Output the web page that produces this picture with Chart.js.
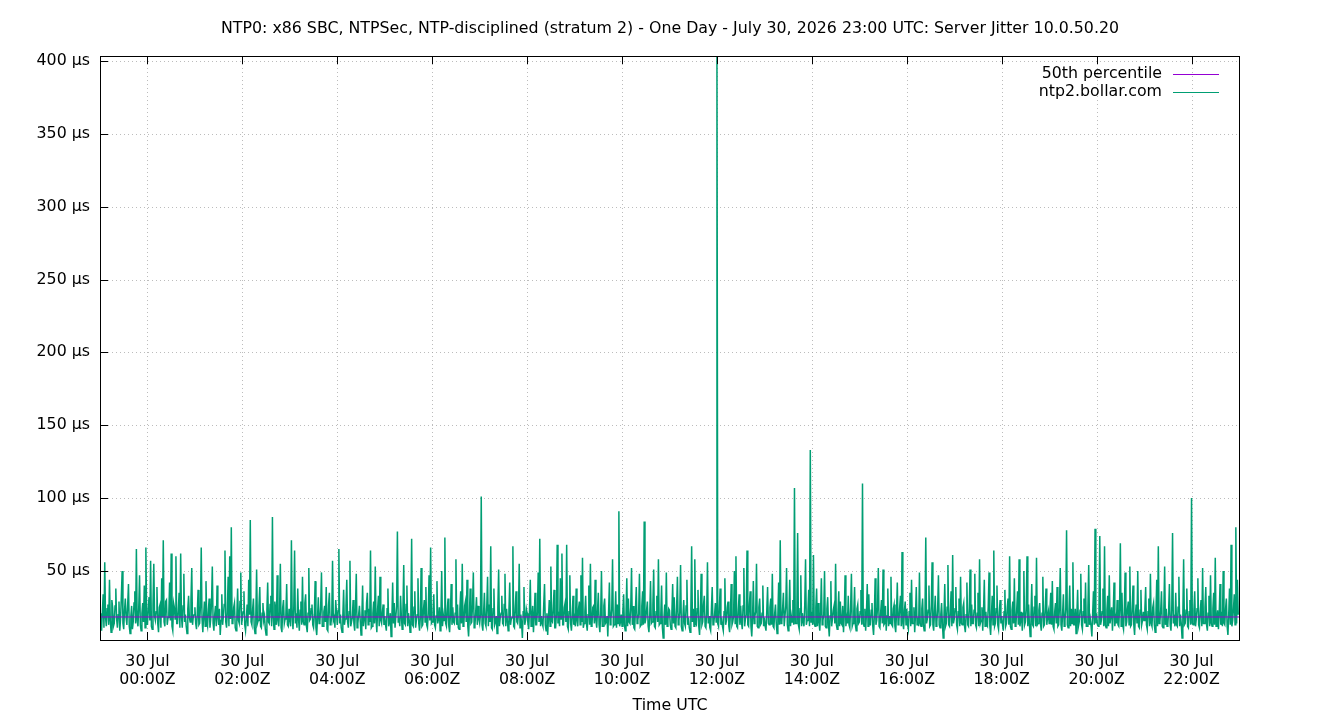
<!DOCTYPE html>
<html>
<head>
<meta charset="utf-8">
<title>Server Jitter</title>
<script src="https://cdn.jsdelivr.net/npm/chart.js@4.4.1/dist/chart.umd.min.js"></script>
<style>
  html, body { margin: 0; padding: 0; background: #fff; }
  #wrap { width: 1340px; height: 720px; }
</style>
</head>
<body>
<div id="wrap"><canvas id="jitterChart" width="1340" height="720"></canvas></div>
<script>
const chartTitle = "NTP0: x86 SBC, NTPSec, NTP-disciplined (stratum 2) - One Day - July 30, 2026 23:00 UTC: Server Jitter 10.0.50.20"
const xTitle = "Time UTC"
const seriesNames = ["50th percentile", "ntp2.bollar.com"]

// x axis in hours relative to 30 Jul 00:00Z
const xMin = -1
const xMax = 23
const tickHours = [0, 2, 4, 6, 8, 10, 12, 14, 16, 18, 20, 22]
const tickDate = "30 Jul"
const yMin = 2.6
const yMax = 403.4
const yTicks = [50, 100, 150, 200, 250, 300, 350, 400]

const median = 18.4

// one sample per minute starting 29 Jul 23:00Z, one row per hour
const sampleStart = -1
const sampleStep = 1 / 60
const jitter = [
  21,15, 9,22, 34,11, 56,18, 12,24, 27,13, 44,16, 8,30, 25,12, 14,26, 38,17, 11,20, 29,9, 17,33, 50,14, 10,23, 31,18, 13,27, 41,12, 7,19, 26,10, 15,28, 36,14, 65,16, 12,25, 47,13, 9,21, 28,15, 40,11, 66,17,
  13,24, 32,16, 57,12, 10,27, 55,19, 16,22, 39,14, 8,25, 27,11, 45,18, 71,15, 12,29, 30,13, 18,21, 42,16, 62,12, 9,28, 25,17, 60,14, 14,23, 35,11, 62,19, 11,26, 48,15, 20,12, 7,24, 33,18, 15,30, 52,13, 19,20,
  25,14, 10,21, 37,13, 14,26, 66,17, 8,19, 29,12, 43,15, 12,23, 31,11, 17,28, 53,14, 9,20, 26,12, 40,18, 13,24, 6,16, 34,13, 19,27, 64,15, 11,22, 46,12, 60,17, 80,14, 15,25, 28,11, 9,19, 38,16, 14,29, 49,13,
  18,22, 36,13, 9,17, 27,12, 44,20, 85,15, 13,24, 31,11, 7,19, 51,14, 16,26, 39,12, 11,21, 28,16, 19,10, 6,23, 42,15, 14,27, 33,12, 87,18, 10,29, 24,13, 47,16, 12,22, 55,11, 8,25, 30,14, 17,20, 41,13, 12,24,
  16,12, 71,19, 10,25, 64,14, 21,11, 38,17, 9,23, 29,13, 46,15, 13,28, 34,12, 8,21, 52,16, 17,24, 27,13, 11,20, 43,11, 6,18, 32,14, 15,26, 49,12, 12,22, 26,15, 39,10, 9,27, 35,13, 14,19, 57,16, 18,11, 30,21,
  13,23, 65,14, 20,11, 8,19, 37,13, 17,26, 44,15, 11,22, 57,12, 15,18, 30,14, 9,25, 48,11, 14,20, 26,16, 6,17, 40,12, 18,23, 10,28, 35,13, 24,15, 64,11, 12,21, 29,14, 53,17, 8,24, 33,12, 46,16, 14,22, 27,13,
  19,13, 9,24, 38,12, 15,21, 5,17, 42,14, 28,11, 11,26, 77,15, 18,12, 33,19, 10,23, 54,14, 13,27, 40,12, 21,16, 8,22, 72,13, 12,25, 36,11, 16,20, 45,14, 9,18, 52,12, 13,24, 30,15, 39,13, 11,21, 47,16, 66,14,
  15,22, 34,13, 11,19, 43,14, 17,25, 9,18, 50,12, 20,16, 73,14, 12,23, 31,12, 8,20, 41,13, 25,15, 14,21, 58,13, 27,11, 10,24, 36,14, 55,12, 13,26, 29,15, 44,12, 5,19, 38,14, 15,27, 49,11, 12,22, 32,13, 26,17,
  14,20, 101,13, 9,22, 35,14, 12,26, 46,12, 27,15, 67,11, 10,24, 38,13, 15,19, 7,25, 51,12, 18,21, 33,14, 13,27, 48,12, 24,16, 9,23, 42,13, 17,18, 67,12, 11,25, 36,15, 14,20, 55,11, 20,14, 4,22, 39,13, 16,24,
  21,14, 10,23, 44,12, 17,26, 8,19, 35,13, 13,22, 49,15, 72,12, 19,14, 12,27, 41,13, 9,21, 6,18, 30,12, 53,16, 15,24, 37,11, 11,20, 68,14, 18,12, 45,17, 62,13, 13,25, 28,15, 68,12, 10,22, 47,14, 9,19, 33,13,
  17,12, 38,16, 12,24, 29,13, 47,15, 59,11, 14,22, 33,14, 9,20, 40,13, 55,12, 13,25, 26,14, 44,16, 11,23, 35,13, 8,21, 50,12, 12,26, 31,14, 15,19, 5,22, 42,13, 17,24, 58,12, 13,18, 36,11, 27,14, 91,12, 15,20,
  12,22, 34,13, 9,20, 45,12, 31,15, 14,25, 52,13, 26,11, 10,24, 39,14, 16,21, 48,12, 13,26, 36,13, 84,14, 17,23, 29,12, 8,19, 43,14, 15,27, 51,12, 11,22, 33,15, 58,13, 14,20, 40,11, 4,18, 27,13, 49,12, 16,24,
  23,13, 10,21, 41,14, 32,12, 11,25, 46,13, 16,22, 54,12, 9,19, 30,14, 12,26, 44,13, 18,11, 8,23, 67,15, 24,12, 58,14, 13,24, 37,12, 6,20, 48,13, 15,27, 33,12, 11,21, 56,14, 19,11, 9,24, 39,13, 14,20, 28,15,
  403,14, 12,24, 38,13, 18,12, 9,22, 45,13, 16,25, 29,12, 8,21, 41,13, 15,19, 50,14, 60,12, 11,23, 34,13, 26,15, 10,26, 52,12, 17,20, 64,13, 12,27, 36,12, 5,18, 43,14, 19,22, 55,12, 11,25, 31,13, 14,21, 40,12,
  18,12, 9,23, 39,14, 13,25, 31,13, 48,12, 11,21, 27,14, 7,19, 42,13, 71,14, 15,24, 35,12, 12,26, 52,13, 9,20, 44,12, 19,15, 30,13, 107,14, 14,22, 76,13, 10,24, 47,12, 21,15, 12,27, 58,13, 16,22, 37,12, 133,15,
  22,13, 61,14, 12,25, 38,12, 28,15, 9,22, 45,13, 16,20, 50,12, 11,24, 32,13, 5,19, 43,12, 17,23, 26,14, 55,13, 10,21, 36,12, 29,14, 13,26, 8,20, 47,12, 18,14, 33,13, 11,25, 48,12, 14,22, 39,13, 9,24, 27,14,
  15,22, 37,13, 110,14, 12,24, 9,21, 41,12, 34,13, 13,23, 28,12, 6,20, 45,13, 16,25, 52,12, 11,22, 30,14, 51,13, 14,26, 9,19, 38,12, 19,14, 46,13, 12,24, 27,12, 8,21, 42,13, 15,25, 33,12, 63,14, 10,23, 29,13,
  24,13, 10,22, 35,12, 44,14, 14,25, 8,20, 39,13, 18,12, 49,14, 12,24, 31,13, 9,21, 73,14, 17,23, 40,12, 13,26, 56,13, 9,22, 33,12, 15,24, 47,13, 11,20, 28,14, 4,19, 41,12, 14,25, 54,13, 12,22, 36,12, 61,14,
  17,24, 39,13, 10,22, 31,12, 46,14, 13,25, 28,12, 8,20, 42,13, 12,24, 51,12, 27,14, 14,23, 48,13, 11,21, 35,12, 58,14, 16,25, 9,22, 44,12, 22,13, 12,26, 49,12, 6,20, 33,13, 64,12, 14,24, 40,13, 10,22, 30,14,
  19,13, 9,22, 37,12, 14,25, 31,13, 60,12, 10,23, 29,14, 45,12, 13,24, 36,13, 58,12, 16,22, 9,21, 50,13, 15,24, 60,12, 27,14, 5,20, 41,13, 12,25, 33,12, 59,13, 14,23, 28,14, 9,21, 46,12, 13,24, 38,13, 18,22,
  14,23, 35,13, 43,12, 10,22, 28,14, 39,12, 13,25, 52,13, 9,21, 34,12, 16,24, 78,13, 11,22, 40,12, 24,14, 56,13, 13,24, 7,20, 37,12, 15,23, 48,13, 10,22, 31,14, 42,12, 12,25, 54,13, 17,12, 5,21, 36,13, 79,14,
  21,13, 12,24, 74,13, 16,22, 38,12, 67,13, 11,23, 33,12, 47,14, 14,25, 9,21, 42,12, 18,14, 30,13, 12,24, 69,12, 35,13, 10,22, 49,12, 15,24, 29,13, 53,12, 13,25, 40,13, 6,20, 27,14, 50,12, 11,23, 37,13, 16,22,
  16,24, 39,13, 10,22, 31,12, 48,14, 12,25, 28,13, 8,21, 44,12, 67,14, 15,23, 36,12, 11,24, 53,13, 24,12, 13,22, 41,13, 9,24, 76,14, 17,12, 35,13, 12,25, 46,12, 20,14, 4,20, 58,13, 14,23, 38,12, 11,22, 30,13,
  100,14, 13,23, 36,12, 17,24, 45,13, 11,22, 30,12, 52,14, 14,25, 39,13, 9,21, 33,12, 47,14, 12,24, 35,13, 59,12, 15,23, 10,21, 41,13, 22,12, 50,14, 13,24, 31,12, 6,20, 38,13, 68,12, 16,24, 34,13, 80,14, 44,20
]

const colors = ["#9400d3", "#009e73"]
const fontFamily = "'DejaVu Sans', sans-serif"
const fontSize = 15.8

const jitterPoints = jitter.map((v, i) => ({x: sampleStart + i * sampleStep, y: v}))
const medianPoints = [{x: xMin, y: median}, {x: xMax, y: median}]

function pad2(n) {
    return (n < 10 ? "0" : "") + n
}

// gnuplot-like frame: dotted grid, inward ticks, box border, title, key
const gnuplotLook = {
    id: 'gnuplotLook',
    beforeDatasetsDraw(chart) {
        const {ctx, chartArea: a, scales} = chart
        ctx.save()
        ctx.strokeStyle = "rgba(160,160,160,0.7)"
        ctx.lineWidth = 1
        ctx.setLineDash([1, 3])
        ctx.beginPath()
        tickHours.forEach(h => {
            const x = Math.round(scales.x.getPixelForValue(h)) + 0.5
            ctx.moveTo(x, a.top)
            ctx.lineTo(x, a.bottom)
        })
        yTicks.forEach(v => {
            const y = Math.round(scales.y.getPixelForValue(v)) + 0.5
            ctx.moveTo(a.left, y)
            ctx.lineTo(a.right, y)
        })
        ctx.stroke()
        ctx.restore()
    },
    afterDatasetsDraw(chart) {
        const {ctx, chartArea: a, scales} = chart
        ctx.save()
        ctx.strokeStyle = "#000"
        ctx.lineWidth = 1
        ctx.beginPath()
        tickHours.forEach(h => {
            const x = Math.round(scales.x.getPixelForValue(h)) + 0.5
            ctx.moveTo(x, a.bottom)
            ctx.lineTo(x, a.bottom - 8)
            ctx.moveTo(x, a.top)
            ctx.lineTo(x, a.top + 8)
        })
        yTicks.forEach(v => {
            const y = Math.round(scales.y.getPixelForValue(v)) + 0.5
            ctx.moveTo(a.left, y)
            ctx.lineTo(a.left + 8, y)
        })
        ctx.stroke()
        ctx.strokeRect(Math.round(a.left) + 0.5, Math.round(a.top) + 0.5,
            Math.round(a.right - a.left), Math.round(a.bottom - a.top))

        // key
        ctx.font = fontSize + "px " + fontFamily
        ctx.fillStyle = "#000"
        ctx.textAlign = "right"
        ctx.textBaseline = "middle"
        seriesNames.forEach((name, i) => {
            const y = 74 + i * 18
            ctx.fillText(name, 1162, y)
            ctx.strokeStyle = colors[i]
            ctx.beginPath()
            ctx.moveTo(1173, y + 0.5)
            ctx.lineTo(1219, y + 0.5)
            ctx.stroke()
        })
        ctx.restore()
    },
    afterDraw(chart) {
        const {ctx} = chart
        ctx.save()
        ctx.font = fontSize + "px " + fontFamily
        ctx.fillStyle = "#000"
        ctx.textAlign = "center"
        ctx.textBaseline = "middle"
        ctx.fillText(chartTitle, 670, 29)
        ctx.fillText(xTitle, 670, 706)
        ctx.restore()
    }
}

const ctx = document.getElementById('jitterChart').getContext('2d')
const chart = new Chart(ctx, {
    type: 'line',
    data: {
        datasets: [{
            label: seriesNames[0],
            data: medianPoints,
            borderColor: colors[0],
            borderWidth: 1,
            pointRadius: 0,
            fill: false
        }, {
            label: seriesNames[1],
            data: jitterPoints,
            borderColor: colors[1],
            borderWidth: 1.5,
            pointRadius: 0,
            tension: 0,
            fill: false
        }]
    },
    plugins: [gnuplotLook],
    options: {
        responsive: false,
        animation: false,
        events: [],
        layout: {
            padding: {left: 0, right: 101, top: 56, bottom: 0}
        },
        plugins: {
            legend: {display: false},
            title: {display: false},
            tooltip: {enabled: false}
        },
        scales: {
            x: {
                type: 'linear',
                min: xMin,
                max: xMax,
                grid: {display: false, drawTicks: false},
                border: {display: false},
                afterBuildTicks: scale => {
                    scale.ticks = tickHours.map(h => ({value: h}))
                },
                afterFit: scale => {
                    scale.height = 80
                    scale.paddingLeft = 0
                    scale.paddingRight = 0
                },
                ticks: {
                    autoSkip: false,
                    maxRotation: 0,
                    padding: 13,
                    color: "#000",
                    font: {family: fontFamily, size: fontSize, lineHeight: 18 / fontSize},
                    callback: v => [tickDate, pad2(v) + ":00Z"]
                }
            },
            y: {
                type: 'linear',
                min: yMin,
                max: yMax,
                grid: {display: false, drawTicks: false},
                border: {display: false},
                afterBuildTicks: scale => {
                    scale.ticks = yTicks.map(v => ({value: v}))
                },
                afterFit: scale => {
                    scale.width = 100
                    scale.paddingTop = 0
                    scale.paddingBottom = 0
                },
                ticks: {
                    padding: 10,
                    color: "#000",
                    font: {family: fontFamily, size: fontSize},
                    callback: v => v + " µs"
                }
            }
        }
    }
})
</script>
</body>
</html>
